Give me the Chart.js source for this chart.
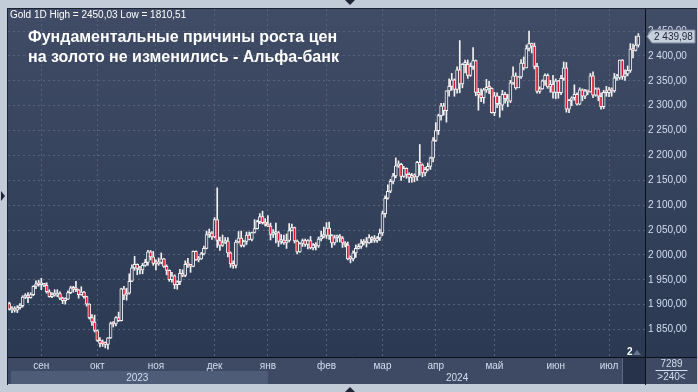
<!DOCTYPE html>
<html>
<head>
<meta charset="utf-8">
<script src="https://cdn.jsdelivr.net/npm/chart.js@4.4.1/dist/chart.umd.min.js"></script>
<style>
  html, body { margin: 0; padding: 0; background: #c2cbd8; }
</style>
</head>
<body>
<canvas id="gold-chart" width="698" height="392"></canvas>
<script>
// Gold 1D, 16 Aug 2023 - 16 Jul 2024, one entry per trading day
const monthNames = ['', 'сен', 'окт', 'ноя', 'дек', 'янв', 'фев', 'мар', 'апр', 'май', 'июн', 'июл'];
const monthYears = ['2023', '2023', '2023', '2023', '2023', '2024', '2024', '2024', '2024', '2024', '2024', '2024'];
const monthDays = [12, 21, 22, 22, 20, 22, 21, 20, 22, 23, 20, 12];
const priceTicks = [1850, 1900, 1950, 2000, 2050, 2100, 2150, 2200, 2250, 2300, 2350, 2400, 2450];

const openPrices = [
  1902,1891,1889,1889,1894,1898,1915,1917,1914,1920,1937,1942,
  1940,1940,1939,1926,1916,1919,1919,1922,1913,1908,1911,1924,1934,1931,1930,1920,1925,1916,1901,1874,1865,
  1848,1828,1822,1821,1820,1833,1862,1861,1874,1868,1932,1919,1923,1947,1974,1981,1973,1970,1979,1985,2006,1996,
  1983,1982,1985,1992,1977,1969,1950,1958,1940,1946,1963,1959,1981,1980,1977,2007,1990,1992,2002,2013,2041,2044,
  2036,2071,2029,2019,2025,2028,2004,1982,1979,2026,2034,2019,2027,2040,2031,2045,2053,2067,2077,2065,
  2062,2058,2041,2043,2045,2027,2030,2024,2029,2049,2055,2028,2006,2023,2029,2021,2029,2014,2020,2018,2032,2037,
  2039,2054,2039,2024,2035,2035,2034,2024,2020,1992,1992,2004,2013,2017,2024,2025,2024,2035,2031,2029,2034,
  2044,2083,2114,2128,2148,2159,2179,2182,2158,2174,2162,2156,2160,2157,2186,2181,2165,2172,2178,2195,
  2230,2250,2280,2300,2290,2330,2339,2352,2333,2372,2344,2383,2383,2361,2379,2391,2327,2322,2316,2332,2337,2335,
  2286,2320,2304,2301,2323,2314,2309,2346,2360,2336,2358,2386,2376,2415,2425,2420,2379,2329,2334,2350,2361,2338,2343,
  2327,2350,2326,2355,2376,2293,2311,2316,2323,2303,2332,2319,2330,2328,2360,2321,2334,2319,2298,2327,
  2326,2332,2330,2356,2356,2392,2359,2364,2371,2414,2411,2422
];
const highPrices = [
  1905,1896,1896,1898,1902,1918,1922,1924,1924,1938,1948,1949,
  1953,1943,1944,1930,1924,1930,1930,1926,1915,1914,1928,1937,1937,1947,1931,1936,1927,1917,1902,1880,1879,
  1849,1834,1829,1825,1834,1865,1866,1876,1885,1933,1937,1933,1962,1980,1997,1982,1977,1983,1991,2009,2009,2007,
  1990,1994,2004,1993,1980,1970,1965,1960,1948,1971,1970,1988,1993,1981,2008,2008,1997,2005,2018,2048,2052,2047,
  2075,2135,2036,2040,2035,2035,2006,1988,2030,2047,2048,2030,2046,2046,2046,2071,2070,2083,2088,2073,
  2079,2064,2051,2064,2047,2041,2040,2042,2063,2062,2056,2030,2025,2032,2032,2031,2037,2023,2025,2036,2048,2056,
  2065,2066,2041,2040,2040,2041,2037,2027,2026,1998,2008,2020,2022,2031,2031,2035,2041,2037,2039,2037,2052,
  2088,2119,2141,2152,2164,2195,2189,2184,2178,2175,2165,2164,2163,2188,2222,2183,2176,2185,2197,2236,
  2266,2283,2305,2305,2330,2354,2365,2354,2378,2431,2385,2392,2392,2386,2417,2392,2335,2334,2335,2353,2349,2336,
  2327,2326,2319,2331,2327,2323,2351,2378,2366,2359,2393,2398,2422,2450.03,2426,2426,2385,2338,2352,2364,2364,2351,2361,
  2354,2351,2361,2388,2387,2313,2318,2342,2326,2336,2334,2333,2331,2365,2368,2336,2336,2326,2331,2339,
  2337,2336,2365,2363,2392,2393,2372,2380,2425,2424,2440,2445
];
const lowPrices = [
  1889,1884,1885,1884,1891,1895,1912,1904,1913,1918,1932,1937,
  1930,1936,1923,1915,1914,1917,1916,1910,1902,1901,1910,1922,1925,1926,1913,1919,1913,1897,1871,1858,1845,
  1826,1815,1816,1813,1810.51,1832,1855,1857,1866,1867,1910,1909,1921,1946,1969,1960,1962,1962,1977,1979,1990,1979,
  1970,1979,1982,1975,1960,1947,1945,1932,1931,1940,1956,1956,1975,1965,1976,1989,1986,1991,2000,2012,2035,2031,
  2034,2015,2009,2017,2023,1996,1975,1973,1974,2024,2016,2016,2021,2030,2028,2044,2052,2063,2062,2058,
  2057,2030,2035,2024,2017,2022,2021,2013,2026,2048,2024,2002,2005,2017,2017,2012,2012,2010,2010,2015,2028,2034,
  2033,2031,2015,2020,2026,2026,2015,2016,1990,1984,1988,1995,2012,2013,2020,2016,2023,2025,2025,2025,2029,
  2039,2076,2112,2125,2143,2155,2176,2150,2156,2154,2146,2146,2147,2150,2160,2157,2159,2169,2172,2187,
  2228,2242,2271,2281,2267,2319,2331,2319,2325,2326,2336,2366,2355,2359,2373,2320,2291,2308,2305,2327,2324,2285,
  2280,2296,2277,2291,2305,2298,2306,2343,2333,2336,2355,2372,2376,2410,2406,2374,2325,2325,2333,2341,2335,2327,2315,
  2314,2315,2322,2351,2287,2286,2300,2311,2301,2302,2310,2314,2322,2327,2316,2319,2310,2293,2294,2319,
  2318,2319,2327,2351,2353,2353,2351,2360,2367,2396,2410,2418
];
const closePrices = [
  1891,1889,1889,1894,1898,1915,1917,1914,1920,1937,1942,1940,
  1940,1939,1926,1916,1919,1919,1922,1913,1908,1911,1924,1934,1931,1930,1920,1925,1916,1901,1874,1865,1848,
  1828,1822,1821,1820,1833,1862,1861,1874,1868,1932,1919,1923,1947,1974,1981,1973,1970,1979,1985,2006,1996,1983,
  1982,1985,1992,1977,1969,1950,1958,1940,1946,1963,1959,1981,1980,1977,2007,1990,1992,2002,2013,2041,2044,2036,
  2071,2029,2019,2025,2028,2004,1982,1979,2026,2034,2019,2027,2040,2031,2045,2053,2067,2077,2065,2062,
  2058,2041,2043,2045,2027,2030,2024,2029,2049,2055,2028,2006,2023,2029,2021,2029,2014,2020,2018,2032,2037,2039,
  2054,2039,2024,2035,2035,2034,2024,2020,1992,1992,2004,2013,2017,2024,2025,2024,2035,2031,2029,2034,2044,
  2083,2114,2128,2148,2159,2179,2182,2158,2174,2162,2156,2160,2157,2186,2181,2165,2172,2178,2195,2230,
  2250,2280,2300,2290,2330,2339,2352,2333,2372,2344,2383,2383,2361,2379,2391,2327,2322,2316,2332,2337,2335,2286,
  2320,2304,2301,2323,2314,2309,2346,2360,2336,2358,2386,2376,2415,2425,2420,2379,2329,2334,2350,2361,2338,2343,2327,
  2350,2326,2355,2376,2293,2311,2316,2323,2303,2332,2319,2330,2328,2360,2321,2334,2319,2298,2327,2326,
  2332,2330,2356,2356,2392,2359,2364,2371,2414,2411,2422,2439.98
];

const FONT = '"Liberation Sans", Arial, sans-serif';
const GRID = '#56627b';
const AXIS_TEXT = '#d3def0';

// x labels: month name on the first trading day of a month
const labels = [];
const yearOf = [];
monthDays.forEach((n, m) => {
  for (let d = 0; d < n; d++) {
    labels.push(d === 0 ? monthNames[m] : '');
    yearOf.push(monthYears[m]);
  }
});
// the terminal leaves a little empty room after the last bar
labels.push('', '');
yearOf.push(yearOf[yearOf.length - 1], yearOf[yearOf.length - 1]);

// year caption sits in the middle of its span
const yearAt = {};
[...new Set(yearOf)].forEach(y => {
  const first = yearOf.indexOf(y), last = yearOf.lastIndexOf(y);
  yearAt[Math.round((first + last) / 2)] = y;
});

function fmtPrice(v) {
  const s = v.toFixed(2).replace('.', ',');
  const [int, dec] = s.split(',');
  return int.replace(/\B(?=(\d{3})+(?!\d))/g, ' ') + ',' + dec;
}

const wickData = lowPrices.map((l, i) => [l, highPrices[i]]);
const bodyData = openPrices.map((o, i) => [o, closePrices[i]]);
const bodyColors = openPrices.map((o, i) => closePrices[i] < o ? '#e0102e' : '#35415b');

const terminalFrame = {
  id: 'terminalFrame',
  beforeDraw(chart) {
    const { ctx, chartArea: a, width } = chart;
    ctx.save();
    ctx.fillStyle = '#c2cbd8';
    ctx.fillRect(0, 0, chart.width, chart.height);
    const g = ctx.createLinearGradient(0, a.top, 0, a.bottom);
    g.addColorStop(0, '#404c65');
    g.addColorStop(1, '#2c3953');
    ctx.fillStyle = g;
    ctx.fillRect(a.left, a.top, width - a.left - 1, a.bottom - a.top);
    // time panel
    ctx.fillStyle = '#3e4a63';
    ctx.fillRect(a.left, a.bottom, width - a.left - 1, 27);
    // 2023 band
    const x = chart.scales.x;
    const janIdx = yearOf.indexOf('2024');
    ctx.fillStyle = '#4e5c77';
    ctx.fillRect(a.left + 3, a.bottom + 14, x.getPixelForTick(janIdx) - a.left - 3, 13);
    // small dark box near the scale corner
    ctx.fillStyle = '#27334b';
    ctx.fillRect(a.right - 23, a.bottom + 1, 23, 26);
    ctx.fillStyle = '#5d6982';
    ctx.fillRect(a.right - 23, a.bottom + 1, 1, 26);
    ctx.restore();
  },
  afterDraw(chart) {
    const { ctx, chartArea: a, width } = chart;
    const y = chart.scales.y;
    ctx.save();

    // borders
    ctx.strokeStyle = '#0c1018';
    ctx.lineWidth = 1;
    ctx.beginPath();
    ctx.moveTo(a.right + 0.5, a.top);
    ctx.lineTo(a.right + 0.5, a.bottom + 28);
    ctx.moveTo(a.left, a.bottom + 0.5);
    ctx.lineTo(width - 1, a.bottom + 0.5);
    ctx.stroke();
    ctx.strokeStyle = '#1c2333';
    ctx.beginPath();
    ctx.moveTo(a.left - 0.5, a.top - 1);
    ctx.lineTo(a.left - 0.5, a.bottom + 28);
    ctx.moveTo(a.left - 1, a.top - 0.5);
    ctx.lineTo(width - 1, a.top - 0.5);
    ctx.stroke();

    // header + title
    ctx.textBaseline = 'middle';
    ctx.fillStyle = '#ffffff';
    ctx.font = '10px ' + FONT;
    ctx.fillText('Gold 1D High = ' + Math.max(...highPrices).toFixed(2).replace('.', ',') +
      ' Low = ' + Math.min(...lowPrices).toFixed(2).replace('.', ','), a.left + 2, a.top + 6);
    ctx.font = 'bold 16px ' + FONT;
    ctx.fillText('Фундаментальные причины роста цен', 28, 38);
    ctx.fillText('на золото не изменились - Альфа-банк', 28, 58);

    // last price tag
    const last = closePrices[closePrices.length - 1];
    const py = Math.round(y.getPixelForValue(last)) + 0.5;
    ctx.beginPath();
    ctx.moveTo(a.right + 2, py);
    ctx.lineTo(a.right + 7, py - 6.5);
    ctx.lineTo(width - 3, py - 6.5);
    ctx.lineTo(width - 3, py + 6.5);
    ctx.lineTo(a.right + 7, py + 6.5);
    ctx.closePath();
    ctx.fillStyle = '#c6cfdc';
    ctx.fill();
    ctx.strokeStyle = '#7c889e';
    ctx.stroke();
    ctx.fillStyle = '#1c2436';
    ctx.font = '10px ' + FONT;
    ctx.fillText(fmtPrice(last), a.right + 9, py + 0.5);

    // "2" marker
    ctx.fillStyle = '#ffffff';
    ctx.font = 'bold 10px ' + FONT;
    ctx.fillText('2', a.right - 18, a.bottom - 5);
    ctx.fillStyle = '#6b7791';
    ctx.beginPath();
    ctx.moveTo(a.right - 12, a.bottom - 2);
    ctx.lineTo(a.right - 8, a.bottom - 7);
    ctx.lineTo(a.right - 4, a.bottom - 2);
    ctx.fill();

    // counter box
    ctx.fillStyle = AXIS_TEXT;
    ctx.font = '10px ' + FONT;
    ctx.textAlign = 'center';
    const cx = (a.right + width) / 2;
    ctx.fillText('7289', cx, a.bottom + 7);
    ctx.fillText('>240<', cx, a.bottom + 20);
    ctx.fillRect(cx - 16, a.bottom + 13, 32, 1);

    // splitter arrows on the frame
    ctx.fillStyle = '#1e2636';
    ctx.beginPath();
    ctx.moveTo(345, 0); ctx.lineTo(355, 0); ctx.lineTo(350, 5); ctx.fill();
    ctx.beginPath();
    ctx.moveTo(345, 392); ctx.lineTo(355, 392); ctx.lineTo(350, 387); ctx.fill();
    ctx.beginPath();
    ctx.moveTo(1, 191); ctx.lineTo(1, 201); ctx.lineTo(5, 196); ctx.fill();
    ctx.restore();
  }
};

const ctx = document.getElementById('gold-chart').getContext('2d');

const goldChart = new Chart(ctx, {
  type: 'bar',
  data: {
    labels: labels,
    datasets: [
      {
        label: 'wicks',
        data: wickData,
        backgroundColor: '#f2f2f2',
        borderWidth: 0,
        barThickness: 1,
        grouped: false,
        order: 2
      },
      {
        label: 'bodies',
        data: bodyData,
        backgroundColor: bodyColors,
        borderColor: '#f2f2f2',
        borderWidth: 1,
        borderSkipped: false,
        barThickness: 3,
        minBarLength: 2,
        grouped: false,
        order: 1
      }
    ]
  },
  options: {
    responsive: false,
    animation: false,
    events: [],
    layout: { padding: { left: 8, top: 9, right: 0, bottom: 8 } },
    plugins: {
      legend: { display: false },
      tooltip: { enabled: false }
    },
    scales: {
      x: {
        type: 'category',
        offset: true,
        weight: 0,
        grid: {
          offset: false,
          drawTicks: false,
          color: c => labels[c.index] ? GRID : 'rgba(0,0,0,0)'
        },
        border: { display: false, dash: [2, 3] },
        ticks: {
          autoSkip: false,
          maxRotation: 0,
          padding: 3,
          color: AXIS_TEXT,
          font: { size: 10, family: FONT },
          callback: (v, i) => labels[i]
        },
        afterFit: s => { s.height = 14; }
      },
      x2: {
        type: 'category',
        position: 'bottom',
        offset: true,
        weight: 1,
        grid: { display: false, drawTicks: false },
        border: { display: false },
        ticks: {
          autoSkip: false,
          maxRotation: 0,
          padding: 1,
          color: AXIS_TEXT,
          font: { size: 10, family: FONT },
          callback: (v, i) => yearAt[i] || ''
        },
        afterFit: s => { s.height = 13; }
      },
      y: {
        position: 'right',
        min: 1794.7,
        max: 2494.5,
        afterBuildTicks: s => { s.ticks = priceTicks.map(v => ({ value: v })); },
        grid: { color: GRID, drawTicks: false },
        border: { display: false, dash: [2, 3] },
        ticks: {
          padding: 3,
          color: AXIS_TEXT,
          font: { size: 10, family: FONT },
          callback: v => fmtPrice(v)
        },
        afterFit: s => { s.width = 53; }
      }
    }
  },
  plugins: [terminalFrame]
});
</script>
</body>
</html>
